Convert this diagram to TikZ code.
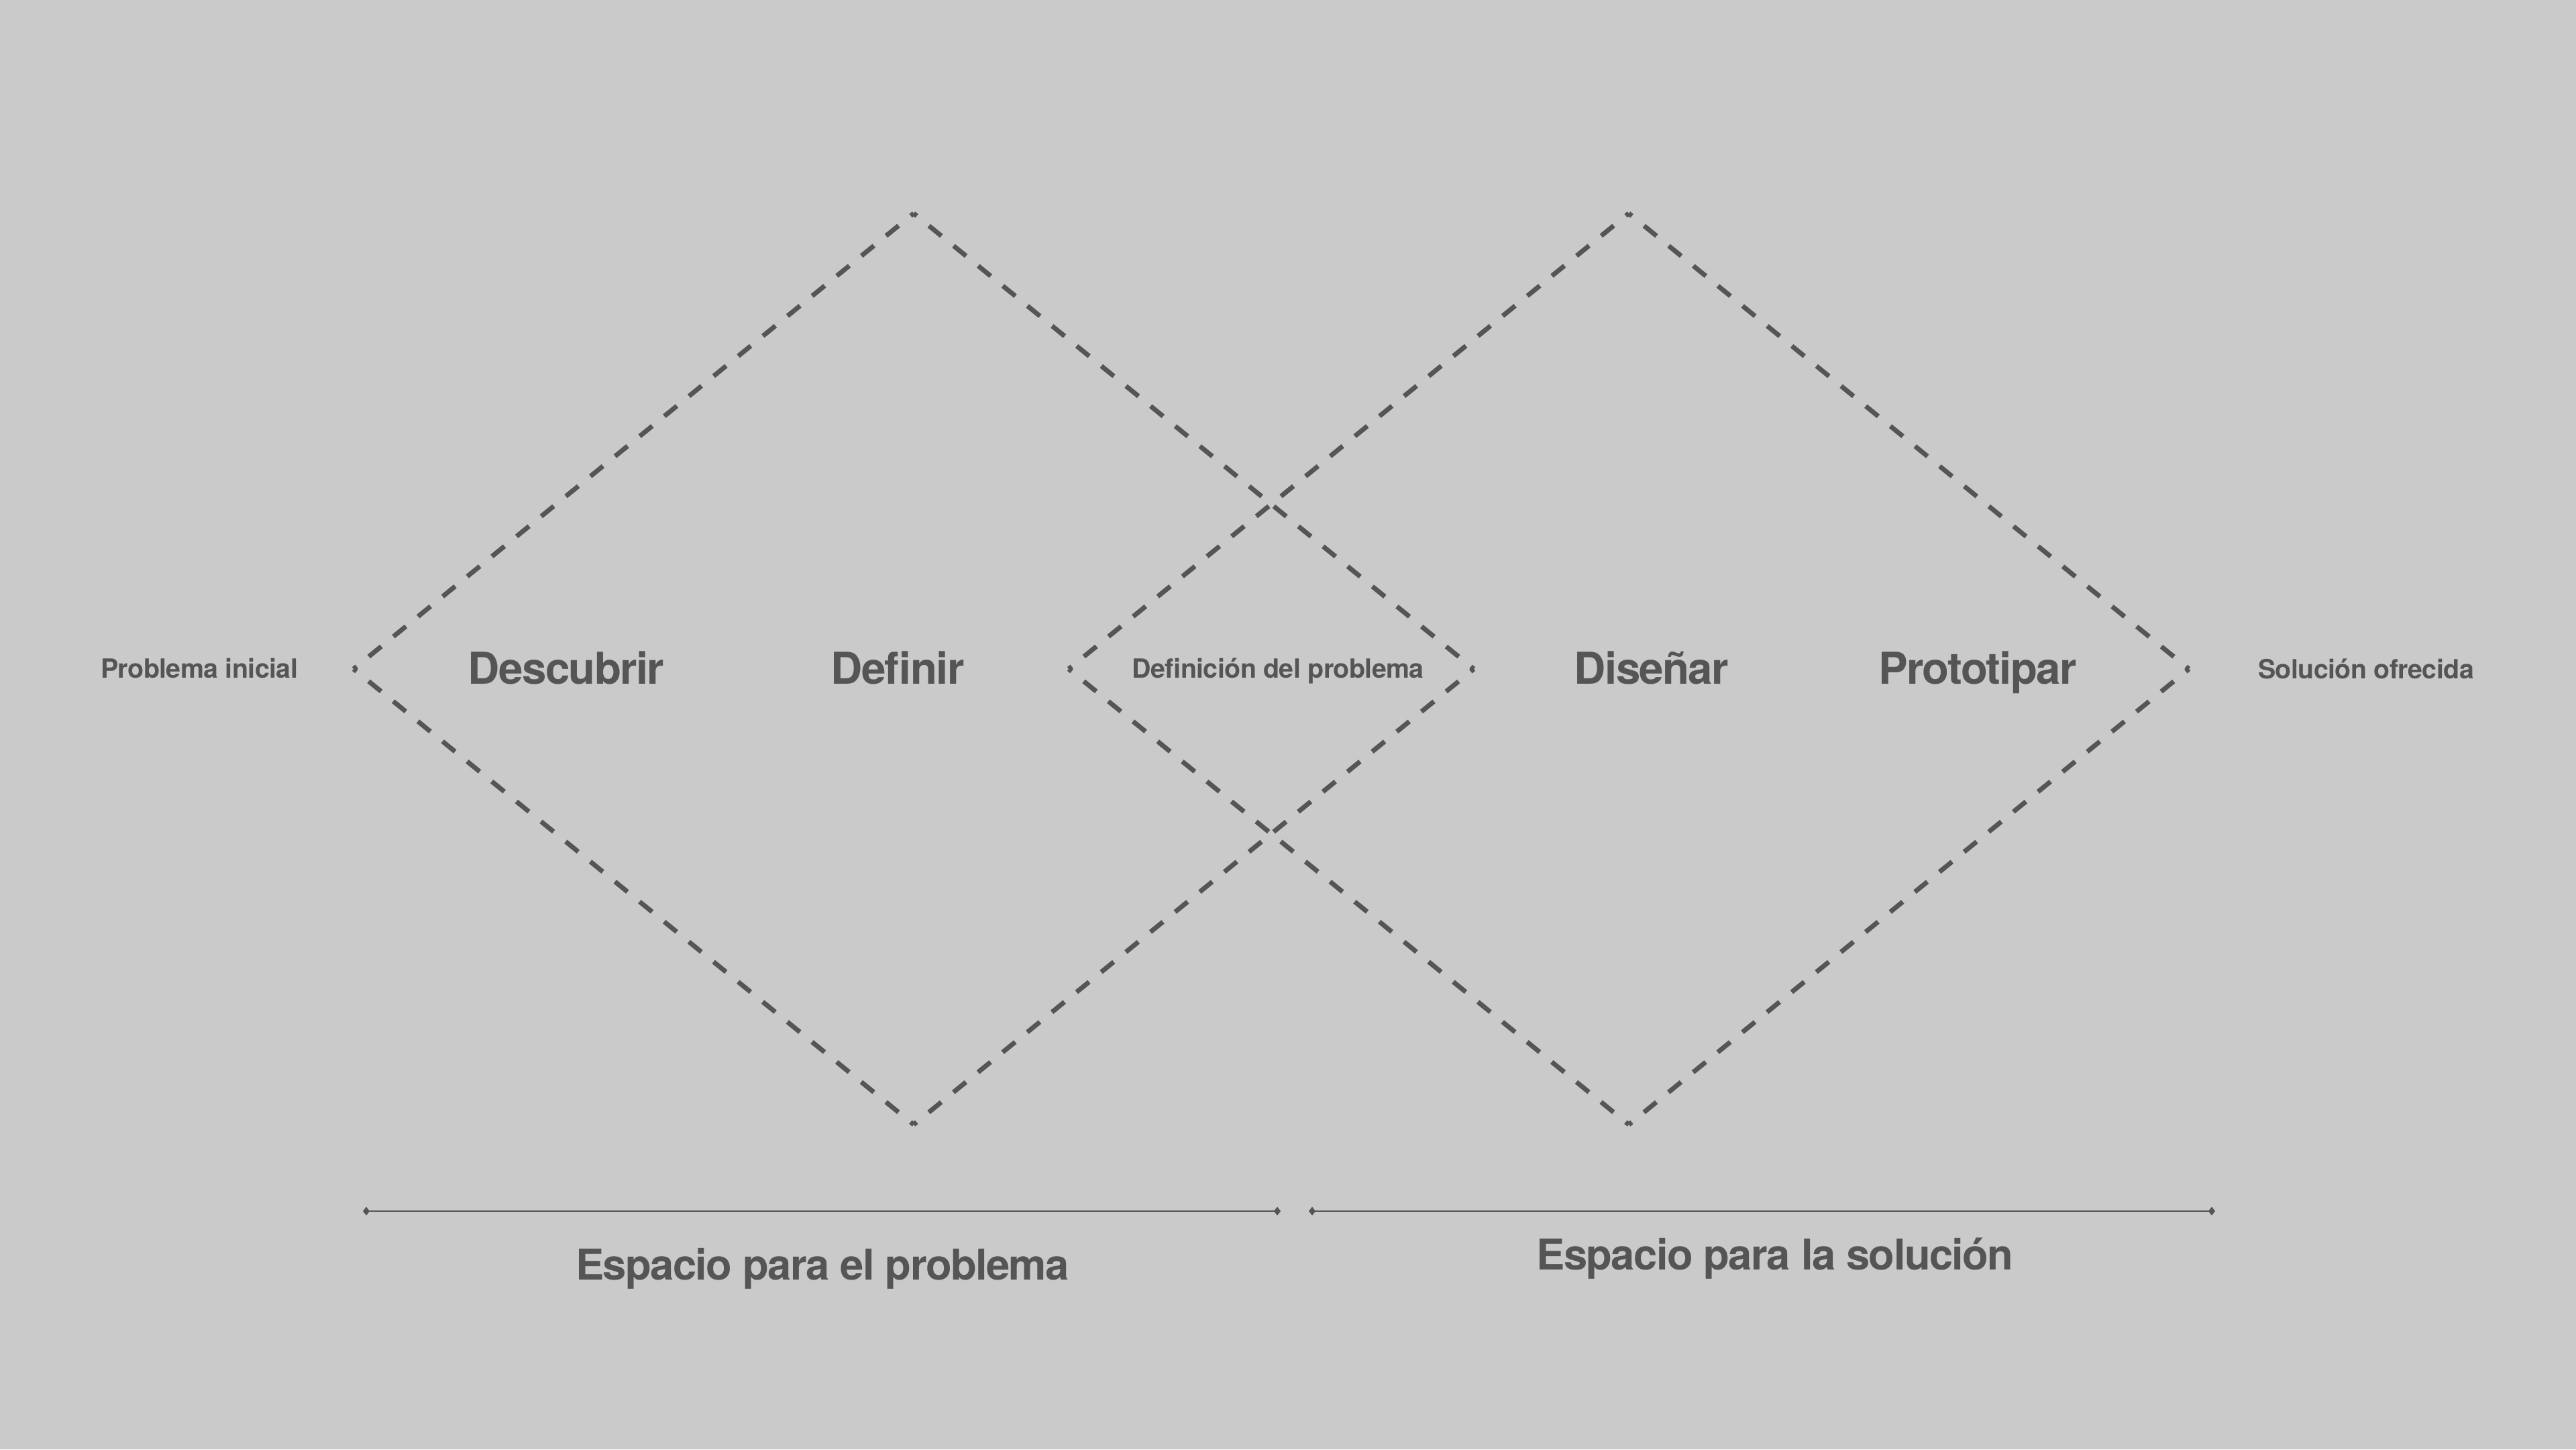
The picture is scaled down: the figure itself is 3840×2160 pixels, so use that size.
\documentclass[tikz,border=0pt]{standalone}
\usepackage{fontspec}
\setmainfont{TeX Gyre Heros}[BoldFont={* Bold}]
\newfontfamily\bigfont{TeX Gyre Heros Bold}[LetterSpace=-2.5]
\newfontfamily\smallfont{TeX Gyre Heros Bold}[LetterSpace=-1.5]
\usetikzlibrary{arrows.meta}
\definecolor{bgc}{RGB}{202,202,202}
\definecolor{ink}{RGB}{85,85,85}
\begin{document}
\begin{tikzpicture}[x=0.01cm,y=-0.01cm,
  side/.style={draw=ink,line width=0.07cm,line cap=butt,dash pattern=on 0.24cm off 0.233cm,dash phase=0.18cm},
  span/.style={draw=ink,line width=0.027cm,{Diamond[length=0.1cm,width=0.13cm]}-{Diamond[length=0.1cm,width=0.13cm]}},
  bigtxt/.style={inner sep=0,anchor=base,text=ink,font=\bigfont\fontsize{18.6pt}{20pt}\selectfont},
  smalltxt/.style={inner sep=0,anchor=base,text=ink,font=\smallfont\fontsize{11.2pt}{12pt}\selectfont},
  spantxt/.style={inner sep=0,anchor=base,text=ink,font=\bigfont\fontsize{18pt}{20pt}\selectfont}]
\fill[bgc] (0,0) rectangle (3840,2160);
\useasboundingbox (0,0) rectangle (3840,2160);
% diamond 1
\coordinate (aL) at (527,997);
\coordinate (aT) at (1362,318);
\coordinate (aR) at (2197,997);
\coordinate (aB) at (1362,1676);
% diamond 2
\coordinate (bL) at (1593,997);
\coordinate (bT) at (2428,318);
\coordinate (bR) at (3263,997);
\coordinate (bB) at (2428,1676);
\draw[side] (aL) -- (aT);
\draw[side] (aT) -- (aR);
\draw[side] (aR) -- (aB);
\draw[side] (aB) -- (aL);
\draw[side] (bL) -- (bT);
\draw[side] (bT) -- (bR);
\draw[side] (bR) -- (bB);
\draw[side] (bB) -- (bL);
% spans
\coordinate (s1a) at (541,1805);
\coordinate (s1b) at (1909,1805);
\coordinate (s2a) at (1951,1805);
\coordinate (s2b) at (3302,1805);
\draw[span] (s1a) -- (s1b);
\draw[span] (s2a) -- (s2b);
% labels
\node[smalltxt] (pi) at (297,1010) {Problema inicial};
\node[bigtxt] (desc) at (844,1019) {Descubrir};
\node[bigtxt] (defi) at (1338,1019) {Definir};
\node[smalltxt] (dp) at (1905,1010) {Definición del problema};
\node[bigtxt] (dise) at (2462,1019) {Diseñar};
\node[bigtxt] (prot) at (2948,1019) {Prototipar};
\node[smalltxt] (so) at (3527,1011) {Solución ofrecida};
\node[spantxt] (ep) at (1226,1907) {Espacio para el problema};
\node[spantxt] (es) at (2646,1892) {Espacio para la solución};
\end{tikzpicture}
\end{document}
